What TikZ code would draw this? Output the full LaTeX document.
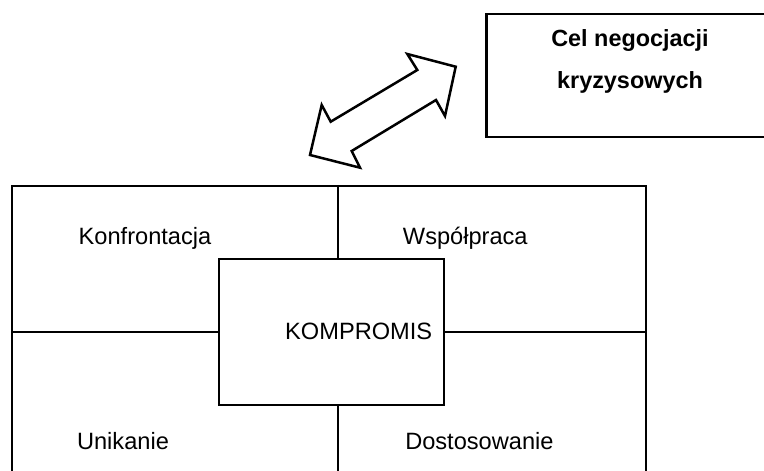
\documentclass[tikz,border=0pt]{standalone}
\usepackage{fontspec}
\setmainfont{Liberation Sans}
\begin{document}
\begin{tikzpicture}[x=1bp,y=-1bp,
  lbl/.style={font=\fontsize{23.7}{28}\selectfont, anchor=base, inner sep=0pt},
  ttl/.style={font=\bfseries\fontsize{23.5}{28}\selectfont, anchor=base, inner sep=0pt},
  gridline/.style={line width=1.8bp},
  thick box/.style={draw, line width=2.5bp, inner sep=0pt}]
\useasboundingbox (0,0) rectangle (764,471);
\clip (0,0) rectangle (764,471);
% goal box
\node[thick box, anchor=north west, minimum width=320bp, minimum height=123bp] (goal) at (485,13) {};
\node[ttl] (goal1) at (630,47) {Cel negocjacji};
\node[ttl] (goal2) at (630,89) {kryzysowych};
% double arrow
\draw[line width=2.5bp, line join=miter]
  (455.7,66.7) -- (407.3,54) -- (417.3,70) -- (330.7,121.7) -- (321.7,105)
  -- (310,155) -- (360,167.7) -- (351.7,151) -- (436,100) -- (445,116) -- cycle;
% grid
\node[draw, gridline, anchor=north west, minimum width=634bp, minimum height=330bp, inner sep=0pt] (grid) at (11,185) {};
\node[draw, gridline, minimum width=225bp, minimum height=146bp, inner sep=0pt] (komp) at (331.2,332) {};
\coordinate (vt) at (338,185);
\draw[gridline] (vt) -- (vt |- komp.north);
\draw[gridline] (komp.south -| vt) -- (grid.south -| vt);
\draw[gridline] (grid.west |- komp.west) -- (komp.west);
\draw[gridline] (komp.east) -- (komp.east -| grid.east);
% labels
\node[lbl] (konf) at (145,244.3) {Konfrontacja};
\node[lbl] (wsp) at (465.3,244.3) {Współpraca};
\node[lbl] (kmp) at (358.7,339.5) {KOMPROMIS};
\node[lbl] (unik) at (123,449.3) {Unikanie};
\node[lbl] (dost) at (479.4,449.3) {Dostosowanie};
\end{tikzpicture}
\end{document}
